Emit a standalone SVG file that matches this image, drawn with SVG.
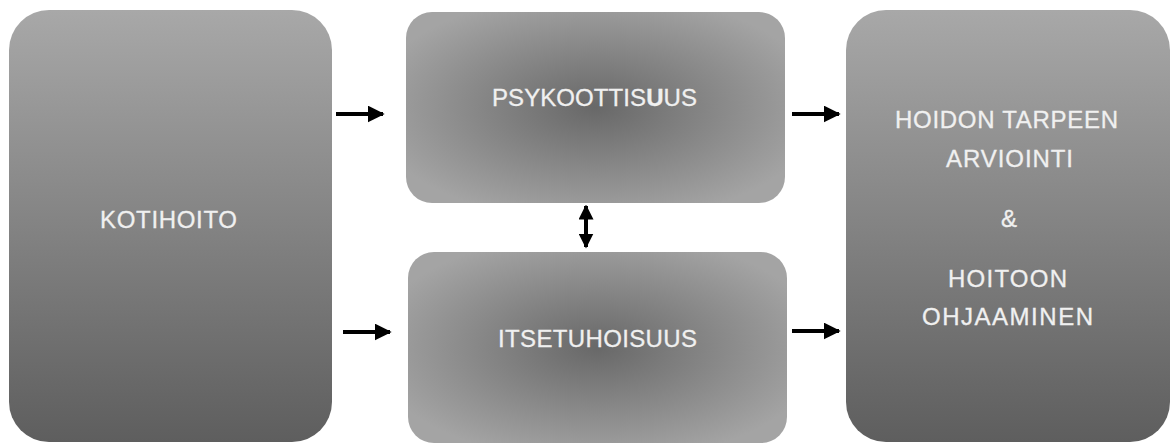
<svg xmlns="http://www.w3.org/2000/svg" width="1174" height="444" viewBox="0 0 1174 444">
<defs>
<linearGradient id="lin" x1="0" y1="0" x2="0" y2="1">
<stop offset="0" stop-color="#a8a8a8"/>
<stop offset="1" stop-color="#5e5e5e"/>
</linearGradient>
<radialGradient id="rad" cx="0.5" cy="0.5" r="0.6">
<stop offset="0" stop-color="#686868"/>
<stop offset="1" stop-color="#a4a4a4"/>
</radialGradient>
<marker id="ah" viewBox="0 0 10 10" refX="9" refY="5" markerWidth="17" markerHeight="17" markerUnits="userSpaceOnUse" orient="auto-start-reverse">
<path d="M0,0 L10,5 L0,10 Z" fill="#000"/>
</marker>
<marker id="ah2" viewBox="0 0 10 10" refX="9" refY="5" markerWidth="15" markerHeight="15" markerUnits="userSpaceOnUse" orient="auto-start-reverse">
<path d="M0,0 L10,5 L0,10 Z" fill="#000"/>
</marker>
<style>
.lbl{font-family:"Liberation Sans",Arial,sans-serif;font-size:24px;fill:#f0f0f0;stroke:#f0f0f0;stroke-width:0.3;text-anchor:middle}
.con{stroke:#000;stroke-width:4;fill:none}
</style>
</defs>
<rect width="1174" height="444" fill="#fff"/>
<g id="kotihoito">
<rect x="9" y="10" width="323" height="432" rx="40" ry="40" fill="url(#lin)"/>
<text class="lbl" x="168.5" y="228" textLength="137" lengthAdjust="spacing">KOTIHOITO</text>
</g>
<g id="psykoottisuus">
<rect x="406" y="12" width="379" height="191" rx="26" ry="26" fill="url(#rad)"/>
<text class="lbl" x="594.5" y="106" textLength="205" lengthAdjust="spacing">PSYKOOTTIS<tspan font-weight="bold">U</tspan>US</text>
</g>
<g id="itsetuhoisuus">
<rect x="408" y="252" width="379" height="191" rx="26" ry="26" fill="url(#rad)"/>
<text class="lbl" x="597.5" y="347" textLength="199" lengthAdjust="spacing">ITSETUHOISUUS</text>
</g>
<g id="hoidon">
<rect x="846" y="10" width="324" height="432" rx="40" ry="40" fill="url(#lin)"/>
<text class="lbl" x="1006.5" y="128" textLength="223" lengthAdjust="spacing">HOIDON TARPEEN</text>
<text class="lbl" x="1009.5" y="167" textLength="127" lengthAdjust="spacing">ARVIOINTI</text>
<text class="lbl" x="1009" y="227">&amp;</text>
<text class="lbl" x="1007.5" y="287" textLength="119" lengthAdjust="spacing">HOITOON</text>
<text class="lbl" x="1007.5" y="325" textLength="171" lengthAdjust="spacing">OHJAAMINEN</text>
</g>
<g id="connectors">
<line class="con" x1="336" y1="114" x2="383" y2="114" marker-end="url(#ah)"/>
<line class="con" x1="343" y1="332" x2="390" y2="332" marker-end="url(#ah)"/>
<line class="con" x1="792" y1="114" x2="839" y2="114" marker-end="url(#ah)"/>
<line class="con" x1="792" y1="331" x2="839" y2="331" marker-end="url(#ah)"/>
<line class="con" x1="586" y1="206" x2="586" y2="247" stroke-width="3" marker-start="url(#ah2)" marker-end="url(#ah2)"/>
</g>
</svg>
